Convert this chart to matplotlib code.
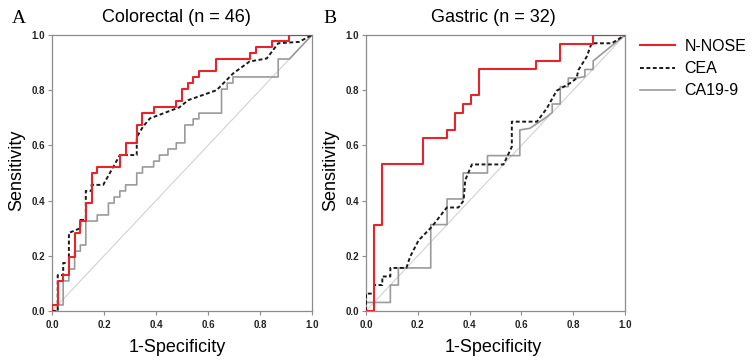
import matplotlib.pyplot as plt

# Colorectal (n = 46): N-NOSE step points (drawn with steps-post)
crc_nnose_x = [0, 0, 0.022, 0.043, 0.065, 0.087, 0.109, 0.130, 0.152, 0.174, 0.261, 0.283, 0.326,
               0.348, 0.391, 0.478, 0.500, 0.522, 0.543, 0.565, 0.630, 0.761, 0.783, 0.848, 0.913, 1.0]
crc_nnose_y = [0, 0.022, 0.109, 0.130, 0.196, 0.283, 0.326, 0.391, 0.500, 0.522, 0.565, 0.609, 0.674,
               0.717, 0.739, 0.761, 0.804, 0.826, 0.848, 0.870, 0.913, 0.935, 0.957, 0.978, 1.0, 1.0]
# Colorectal CEA (vertices)
crc_cea_x = [0, 0.022, 0.022, 0.043, 0.043, 0.065, 0.065, 0.109, 0.109, 0.130, 0.130, 0.152, 0.152, 0.197,
             0.261, 0.326, 0.326, 0.350, 0.377, 0.490, 0.524, 0.633, 0.697, 0.760, 0.826, 0.870, 0.950, 1.0]
crc_cea_y = [0, 0, 0.130, 0.130, 0.174, 0.174, 0.283, 0.300, 0.330, 0.330, 0.435, 0.435, 0.457, 0.457,
             0.565, 0.565, 0.630, 0.668, 0.698, 0.738, 0.764, 0.800, 0.861, 0.904, 0.915, 0.970, 0.975, 1.0]
# Colorectal CA19-9 (vertices)
crc_ca199_x = [0, 0.022, 0.022, 0.043, 0.043, 0.065, 0.065, 0.087, 0.087, 0.109, 0.109, 0.130, 0.130,
               0.174, 0.174, 0.217, 0.217, 0.239, 0.239, 0.261, 0.261, 0.283, 0.283, 0.326, 0.326, 0.348,
               0.348, 0.391, 0.391, 0.413, 0.413, 0.446, 0.446, 0.478, 0.478, 0.511, 0.511, 0.543, 0.543,
               0.565, 0.565, 0.652, 0.652, 0.674, 0.674, 0.696, 0.696, 0.870, 0.870, 0.913, 1.0]
crc_ca199_y = [0, 0, 0.022, 0.022, 0.109, 0.109, 0.152, 0.152, 0.217, 0.217, 0.239, 0.239, 0.326,
               0.326, 0.348, 0.348, 0.391, 0.391, 0.413, 0.413, 0.435, 0.435, 0.457, 0.457, 0.500, 0.500,
               0.522, 0.522, 0.543, 0.543, 0.565, 0.565, 0.587, 0.587, 0.609, 0.609, 0.674, 0.674, 0.696,
               0.696, 0.717, 0.717, 0.804, 0.804, 0.826, 0.826, 0.848, 0.848, 0.913, 0.913, 1.0]

# Gastric (n = 32)
gc_nnose_x = [0, 0.031, 0.063, 0.219, 0.313, 0.344, 0.375, 0.406, 0.438, 0.656, 0.750, 0.875, 1.0]
gc_nnose_y = [0, 0.313, 0.531, 0.625, 0.656, 0.719, 0.750, 0.781, 0.875, 0.906, 0.969, 1.0, 1.0]
gc_cea_x = [0, 0, 0.031, 0.031, 0.063, 0.063, 0.094, 0.094, 0.156, 0.170, 0.203, 0.254, 0.312, 0.357, 0.377,
            0.383, 0.409, 0.531, 0.563, 0.563, 0.660, 0.698, 0.736, 0.787, 0.813, 0.820, 0.852, 0.871, 0.949, 1.0]
gc_cea_y = [0, 0.063, 0.063, 0.094, 0.094, 0.125, 0.125, 0.156, 0.156, 0.196, 0.256, 0.305, 0.375, 0.375, 0.400,
            0.474, 0.531, 0.531, 0.595, 0.686, 0.686, 0.734, 0.798, 0.825, 0.843, 0.873, 0.921, 0.970, 0.970, 1.0]
gc_ca199_x = [0, 0, 0.094, 0.094, 0.125, 0.125, 0.250, 0.250, 0.313, 0.313, 0.375, 0.375, 0.469, 0.469, 0.594,
              0.594, 0.633, 0.690, 0.719, 0.719, 0.750, 0.750, 0.781, 0.781, 0.813, 0.845, 0.845, 0.877, 0.877, 1.0]
gc_ca199_y = [0, 0.031, 0.031, 0.094, 0.094, 0.156, 0.156, 0.313, 0.313, 0.406, 0.406, 0.500, 0.500, 0.563, 0.563,
              0.656, 0.662, 0.698, 0.719, 0.750, 0.750, 0.813, 0.813, 0.844, 0.844, 0.849, 0.875, 0.875, 0.906, 1.0]

ticks = [0.0, 0.2, 0.4, 0.6, 0.8, 1.0]
tick_labels = ["0.0", "0.2", "0.4", "0.6", "0.8", "1.0"]

W, H = 753, 362
plt.rcParams['font.family'] = ['Liberation Sans', 'DejaVu Sans']

fig = plt.figure(figsize=(W / 100, H / 100), dpi=100)
ax1 = fig.add_axes([52 / W, 1 - 311 / H, 260 / W, 276 / H])
ax2 = fig.add_axes([366 / W, 1 - 311 / H, 259 / W, 276 / H])

red = "#e5242b"
dark = "#1a1a1a"
grey = "#9a9a9a"

panels = [
    (ax1, crc_nnose_x, crc_nnose_y, crc_cea_x, crc_cea_y, crc_ca199_x, crc_ca199_y),
    (ax2, gc_nnose_x, gc_nnose_y, gc_cea_x, gc_cea_y, gc_ca199_x, gc_ca199_y),
]
for ax, nx, ny, cx, cy, gx, gy in panels:
    ax.plot([0, 1], [0, 1], color="#d2d2d2", lw=0.8, zorder=1)
    ax.plot(gx, gy, color=grey, lw=1.2, zorder=2, label="CA19-9")
    ax.plot(cx, cy, color=dark, lw=1.4, ls=(0, (2, 1.3)), zorder=3, label="CEA")
    ax.plot(nx, ny, color=red, lw=1.5, drawstyle="steps-post", zorder=4, label="N-NOSE")
    ax.set_xlim(0, 1)
    ax.set_ylim(0, 1)
    ax.set_xticks(ticks)
    ax.set_yticks(ticks)
    ax.set_xticklabels(tick_labels, fontsize=7, fontweight="bold", color="#222222")
    ax.set_yticklabels(tick_labels, fontsize=7, fontweight="bold", color="#222222")
    ax.tick_params(axis="both", direction="out", length=3, width=0.8, color="#8c8c8c")
    ax.tick_params(axis="x", pad=3.5)
    ax.tick_params(axis="y", pad=2)
    for s in ax.spines.values():
        s.set_color("#8c8c8c")
        s.set_linewidth(0.9)

# titles, panel letters, axis labels
fig.text(176 / W, 1 - 22 / H, "Colorectal (n = 46)", ha="center", va="baseline", fontsize=13)
fig.text(493 / W, 1 - 22 / H, "Gastric (n = 32)", ha="center", va="baseline", fontsize=13)
fig.text(12 / W, 1 - 23 / H, "A", ha="left", va="baseline", fontsize=14,
         family=["Liberation Serif", "DejaVu Serif"])
fig.text(323 / W, 1 - 23 / H, "B", ha="left", va="baseline", fontsize=14,
         family=["Liberation Serif", "DejaVu Serif"])
for cx_px in (177, 493):
    fig.text(cx_px / W, 10 / H, "1-Specificity", ha="center", va="baseline", fontsize=13)
for lx_px in (21, 335):
    fig.text(lx_px / W, 1 - 170 / H, "Sensitivity", ha="center", va="baseline", rotation=90,
             rotation_mode="anchor", fontsize=13)

h, l = ax2.get_legend_handles_labels()
order = [2, 1, 0]
fig.legend([h[i] for i in order], [l[i] for i in order], loc="upper left",
           bbox_to_anchor=(640 / W, 1 - 39 / H), frameon=False, fontsize=11.5,
           handlelength=2.2, handletextpad=0.6, labelspacing=0.45, borderpad=0, borderaxespad=0)

fig.savefig("out.png", dpi=100)
